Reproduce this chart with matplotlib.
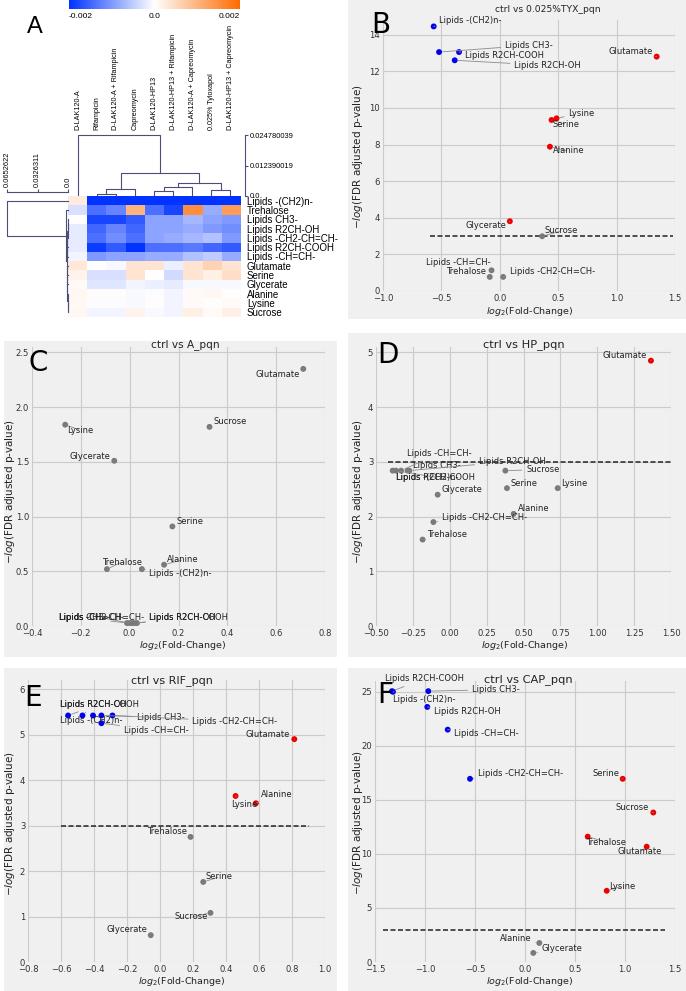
import numpy as np
import matplotlib
matplotlib.use('Agg')
import matplotlib.pyplot as plt
from matplotlib.colors import LinearSegmentedColormap
from matplotlib.patches import Rectangle

W, H = 686, 991

# ---------------- panel A data ----------------
metabolites = ['Lipids -(CH2)n-', 'Trehalose', 'Lipids CH3-', 'Lipids R2CH-OH',
               'Lipids -CH2-CH=CH-', 'Lipids R2CH-COOH', 'Lipids -CH=CH-',
               'Glutamate', 'Serine', 'Glycerate', 'Alanine', 'Lysine', 'Sucrose']
treatments = ['D-LAK120-A', 'Rifampicin', 'D-LAK120-A + Rifampicin', 'Capreomycin',
              'D-LAK120-HP13', 'D-LAK120-HP13 + Rifampicin', 'D-LAK120-A + Capreomycin',
              '0.025% Tyloxapol', 'D-LAK120-HP13 + Capreomycin']

# values in units of 1e-3
heat = np.array([
    [0.25, -2.2, -2.2, -2.2, -2.2, -2.2, -2.2, -2.2, -2.2],
    [-0.3, -1.4, -1.2, 1.0, -1.4, -1.8, 1.5, -0.8, 1.3],
    [0.0, -1.8, -1.8, -1.6, -0.9, -0.9, -0.7, -0.9, -1.0],
    [-0.2, -1.5, -1.2, -1.5, -0.9, -0.9, -0.8, -1.0, -1.1],
    [-0.2, -1.4, -1.1, -1.4, -0.9, -0.8, -0.7, -0.6, -1.0],
    [-0.2, -1.9, -1.6, -2.0, -1.4, -1.4, -1.3, -1.5, -1.6],
    [-0.1, -1.0, -0.9, -0.9, -0.8, -0.8, -0.6, -0.5, -0.8],
    [0.3, 0.0, -0.05, 0.35, 0.35, -0.15, 0.35, 0.6, 0.35],
    [0.15, -0.3, -0.3, 0.35, 0.0, -0.35, 0.35, 0.2, 0.45],
    [0.05, -0.25, -0.25, -0.1, -0.15, -0.2, -0.05, -0.05, -0.05],
    [0.1, 0.02, 0.02, -0.05, -0.02, -0.1, 0.05, 0.1, 0.02],
    [0.08, -0.02, -0.02, -0.05, 0.02, -0.1, 0.05, 0.02, 0.05],
    [0.1, -0.1, -0.1, 0.15, -0.05, -0.1, 0.2, 0.05, 0.2],
]) * 1e-3

# (child a, child b, height); clusters numbered after the leaves
col_links = [(1, 2, 0.0008), (9, 3, 0.0027), (4, 5, 0.0019), (11, 6, 0.0035),
             (7, 8, 0.0024), (12, 13, 0.0052), (10, 14, 0.0092), (0, 15, 0.024780039)]
row_links = [(11, 12, 0.0002), (10, 13, 0.0004), (9, 14, 0.0006), (8, 15, 0.0008),
             (7, 16, 0.0010), (2, 3, 0.0003), (18, 4, 0.0005), (19, 5, 0.0007),
             (20, 6, 0.0009), (21, 17, 0.0015), (1, 22, 0.0025), (0, 23, 0.0652622)]

# ---------------- volcano data (same order as metabolites) ----------------
fc_B = [-0.566, -0.086, -0.52, -0.386, 0.029, -0.349, -0.071, 1.343, 0.443, 0.086, 0.429, 0.486, 0.363]
p_B = [14.45, 0.77, 13.05, 12.6, 0.77, 13.05, 1.13, 12.8, 9.34, 3.81, 7.88, 9.43, 2.99]
fc_C = [0.05, -0.093, -0.011, 0.03, 0.0, 0.02, 0.01, 0.711, 0.175, -0.063, 0.141, -0.264, 0.327]
p_C = [0.52, 0.52, 0.027, 0.027, 0.027, 0.027, 0.027, 2.35, 0.91, 1.51, 0.56, 1.84, 1.82]
fc_D = [-0.387, -0.184, -0.285, -0.274, -0.111, -0.364, -0.33, 1.364, 0.388, -0.082, 0.433, 0.732, 0.377]
p_D = [2.84, 1.58, 2.84, 2.84, 1.90, 2.84, 2.84, 4.85, 2.52, 2.40, 2.05, 2.52, 2.84]
fc_E = [-0.406, 0.185, -0.355, -0.470, -0.288, -0.557, -0.355, 0.814, 0.262, -0.056, 0.581, 0.458, 0.306]
p_E = [5.42, 2.75, 5.42, 5.42, 5.42, 5.42, 5.25, 4.90, 1.76, 0.59, 3.49, 3.65, 1.08]
fc_F = [-1.32, 0.627, -0.967, -0.977, -0.55, -1.33, -0.773, 1.217, 0.977, 0.083, 0.143, 0.817, 1.283]
p_F = [25.0, 11.6, 25.06, 23.6, 16.95, 25.06, 21.5, 10.67, 16.95, 0.84, 1.76, 6.59, 13.83]
threshold = 3.0

# label placement (x, y, ha) per metabolite
lab_B = [(-0.52, 14.78, 'left'), (-0.114, 1.09, 'right'), (0.043, 13.41, 'left'),
         (0.123, 12.32, 'left'), (0.086, 1.09, 'left'), (-0.30, 12.87, 'left'),
         (-0.08, 1.55, 'right'), (1.309, 13.1, 'right'), (0.451, 9.1, 'left'),
         (0.057, 3.56, 'right'), (0.451, 7.65, 'left'), (0.586, 9.71, 'left'),
         (0.386, 3.28, 'left')]
lab_C = [(0.081, 0.477, 'left'), (-0.114, 0.584, 'left'), (-0.29, 0.076, 'left'),
         (0.081, 0.076, 'left'), (-0.29, 0.076, 'left'), (0.081, 0.076, 'left'),
         (-0.29, 0.076, 'left'), (0.698, 2.30, 'right'), (0.19, 0.955, 'left'),
         (-0.08, 1.55, 'right'), (0.152, 0.605, 'left'), (-0.257, 1.79, 'left'),
         (0.344, 1.87, 'left')]
lab_D = [(-0.364, 2.72, 'left'), (-0.154, 1.67, 'left'), (-0.25, 2.93, 'left'),
         (0.196, 3.01, 'left'), (-0.054, 1.98, 'left'), (-0.364, 2.72, 'left'),
         (-0.29, 3.16, 'left'), (1.335, 4.95, 'right'), (0.411, 2.61, 'left'),
         (-0.054, 2.49, 'left'), (0.46, 2.14, 'left'), (0.754, 2.61, 'left'),
         (0.517, 2.86, 'left')]
lab_E = [(-0.608, 5.32, 'left'), (0.161, 2.86, 'right'), (-0.139, 5.38, 'left'),
         (-0.604, 5.67, 'left'), (0.195, 5.29, 'left'), (-0.604, 5.67, 'left'),
         (-0.22, 5.10, 'left'), (0.788, 5.01, 'right'), (0.276, 1.87, 'left'),
         (-0.078, 0.71, 'right'), (0.612, 3.69, 'left'), (0.434, 3.47, 'left'),
         (0.292, 0.99, 'right')]
lab_F = [(-1.317, 24.3, 'left'), (0.61, 11.1, 'left'), (-0.533, 25.2, 'left'),
         (-0.91, 23.2, 'left'), (-0.467, 17.4, 'left'), (-1.4, 26.2, 'left'),
         (-0.71, 21.1, 'left'), (0.927, 10.2, 'left'), (0.943, 17.4, 'right'),
         (0.167, 1.24, 'left'), (0.067, 2.17, 'right'), (0.843, 7.0, 'left'),
         (1.243, 14.3, 'right')]

fig = plt.figure(figsize=(W / 100, H / 100), dpi=100)
fig.patch.set_facecolor('white')


def fx(x):
    return x / W


def fy(y):
    return 1 - y / H


def axes_px(x0, y0, x1, y1):
    return fig.add_axes([x0 / W, 1 - y1 / H, (x1 - x0) / W, (y1 - y0) / H])


def dendro_segments(links, n):
    pos = {i: i + 0.5 for i in range(n)}
    hgt = {i: 0.0 for i in range(n)}
    segs = []
    for k, (a, b, h) in enumerate(links):
        segs.append(([pos[a], pos[a], pos[b], pos[b]], [hgt[a], h, h, hgt[b]]))
        pos[n + k] = (pos[a] + pos[b]) / 2
        hgt[n + k] = h
    return segs


# ---------------- panel A ----------------
AF = 'Liberation Sans'
DCOL = '#4d4d7a'
cmap = LinearSegmentedColormap.from_list('bwo', ['#0033ff', '#ffffff', '#ff6a00'])

ax_h = axes_px(68, 196, 240, 317)
im = ax_h.imshow(heat, cmap=cmap, vmin=-0.002, vmax=0.002, aspect='auto',
                 interpolation='nearest', extent=(0, 9, 13, 0))
ax_h.set_xticks([])
ax_h.yaxis.tick_right()
ax_h.set_yticks(np.arange(13) + 0.5)
ax_h.set_yticklabels(metabolites, fontsize=7.0, family=AF)
ax_h.tick_params(axis='y', length=0, pad=5)
for s in ax_h.spines.values():
    s.set_visible(False)

# column dendrogram
ax_cd = axes_px(68, 132.5, 240, 196)
for xs, ys in dendro_segments(col_links, 9):
    ax_cd.plot(xs, ys, color=DCOL, lw=0.8)
ax_cd.set_xlim(0, 9)
ax_cd.set_ylim(0, 0.0258)
for k in ['top', 'bottom', 'left']:
    ax_cd.spines[k].set_visible(False)
ax_cd.spines['right'].set_position(('outward', 3.6))
ax_cd.spines['right'].set_color(DCOL)
ax_cd.spines['right'].set_bounds(0, 0.024780039)
ax_cd.yaxis.tick_right()
ax_cd.set_yticks([0.0, 0.012390019, 0.024780039])
ax_cd.set_yticklabels(['0.0', '0.012390019', '0.024780039'], fontsize=5.4, family=AF)
ax_cd.tick_params(axis='y', length=2.5, pad=1, color=DCOL)
ax_cd.xaxis.tick_top()
ax_cd.set_xticks(np.arange(9) + 0.5)
ax_cd.set_xticklabels(treatments, rotation=90, fontsize=5.2, family=AF)
ax_cd.tick_params(axis='x', length=0, pad=1.5)
ax_cd.patch.set_visible(False)

# row dendrogram
ax_rd = axes_px(7, 196, 68, 317)
for xs, ys in dendro_segments(row_links, 13):
    ax_rd.plot(ys, xs, color=DCOL, lw=0.8, clip_on=False)
ax_rd.set_xlim(0.0652622, 0)
ax_rd.set_ylim(13, 0)
for k in ['right', 'bottom', 'left']:
    ax_rd.spines[k].set_visible(False)
ax_rd.spines['top'].set_position(('outward', 3))
ax_rd.spines['top'].set_color(DCOL)
ax_rd.xaxis.tick_top()
ax_rd.set_xticks([0.0652622, 0.0326311, 0.0])
ax_rd.set_xticklabels(['0.0652622', '0.0326311', '0.0'], rotation=90, fontsize=5.4, family=AF)
ax_rd.tick_params(axis='x', length=2.5, pad=1, color=DCOL)
ax_rd.set_yticks([])
ax_rd.patch.set_visible(False)

# colorbar
cax = axes_px(69, 0, 240, 9)
cb = fig.colorbar(im, cax=cax, orientation='horizontal')
cb.outline.set_visible(False)
cb.set_ticks([-0.002, 0.0, 0.002])
cb.set_ticklabels(['-0.002', '0.0', '0.002'])
cax.tick_params(length=0, labelsize=6.0, pad=3)
for t, ha in zip(cax.get_xticklabels(), ['left', 'center', 'right']):
    t.set_ha(ha)
    t.set_family(AF)

fig.text(fx(35), fy(27), 'A', fontsize=17, family=AF, ha='center', va='center')

# ---------------- volcano panels ----------------
BG = '#f0f0f0'
for x0, y0, x1, y1 in [(348, 0, 686, 319), (4, 341, 337, 657), (348, 333, 686, 657),
                       (4, 668, 337, 991), (348, 668, 686, 991)]:
    fig.add_artist(Rectangle((fx(x0), fy(y1)), (x1 - x0) / W, (y1 - y0) / H,
                             transform=fig.transFigure, facecolor=BG,
                             edgecolor='none', zorder=-5))


def volcano(box, xlim, ylim, xticks, yticks, fc, nlp, labs, title, title_xy, title_fs,
            letter, letter_xy, xlab_xy, ylab_xy, thr_span):
    ax = axes_px(*box)
    ax.set_facecolor(BG)
    ax.set_xlim(*xlim)
    ax.set_ylim(*ylim)
    ax.set_xticks(xticks)
    ax.set_yticks(yticks)
    ax.grid(True, color='#cbcbcb', lw=0.8)
    ax.set_axisbelow(True)
    for s in ax.spines.values():
        s.set_visible(False)
    ax.tick_params(length=0, labelsize=6.1, pad=2, colors='#333333')
    cols = []
    for f, p in zip(fc, nlp):
        if p > threshold and f < 0:
            cols.append('#0000ee')
        elif p > threshold:
            cols.append('#ee0000')
        else:
            cols.append('#7a7a7a')
    ax.scatter(fc, nlp, c=cols, s=18, edgecolors='none', zorder=3, clip_on=False)
    for name, f, p, (tx, ty, ha) in zip(metabolites, fc, nlp, labs):
        ax.annotate(name, xy=(f, p), xytext=(tx, ty), ha=ha, va='center',
                    fontsize=6, color='#222222', annotation_clip=False, zorder=4,
                    arrowprops=dict(arrowstyle='-', color='#8a8a8a', lw=0.6,
                                    shrinkA=1, shrinkB=2.5))
    if thr_span is not None:
        ax.plot(thr_span, [threshold, threshold], ls='--', color='#333333',
                lw=1.2, dashes=(3, 1.5), zorder=2)
    fig.text(fx(title_xy[0]), fy(title_xy[1]), title, fontsize=title_fs,
             ha='center', va='center', color='#222222')
    fig.text(fx(letter_xy[0]), fy(letter_xy[1]), letter, fontsize=20,
             ha='center', va='center', color='black')
    fig.text(fx(xlab_xy[0]), fy(xlab_xy[1]), '$log_2$(Fold-Change)', fontsize=6.8,
             ha='center', va='center', color='#222222')
    fig.text(fx(ylab_xy[0]), fy(ylab_xy[1]), '$-log$(FDR adjusted p-value)',
             fontsize=7.5, ha='center', va='center', rotation=90, color='#222222')
    return ax


volcano((383, 20, 675, 291), (-1.0, 1.5), (0, 14.8),
        [-1.0, -0.5, 0.0, 0.5, 1.0, 1.5], [0, 2, 4, 6, 8, 10, 12, 14],
        fc_B, p_B, lab_B, 'ctrl vs 0.025%TYX_pqn', (548, 10), 6.6, 'B', (381, 25),
        (530, 312), (358, 157), (-0.6, 1.48))
volcano((32, 347, 325, 626), (-0.4, 0.8), (0, 2.55),
        [-0.4, -0.2, 0.0, 0.2, 0.4, 0.6, 0.8], [0.0, 0.5, 1.0, 1.5, 2.0, 2.5],
        fc_C, p_C, lab_C, 'ctrl vs A_pqn', (185, 345), 7.6, 'C', (38, 363),
        (183, 645), (10, 492), None)
volcano((376, 347, 671, 626), (-0.5, 1.5), (0, 5.1),
        [-0.5, -0.25, 0.0, 0.25, 0.5, 0.75, 1.0, 1.25, 1.5], [0, 1, 2, 3, 4, 5],
        fc_D, p_D, lab_D, 'ctrl vs HP_pqn', (524, 345), 8.2, 'D', (388, 355),
        (525, 645), (358, 492), (-0.42, 1.5))
volcano((28, 680, 325, 962), (-0.8, 1.0), (0, 6.2),
        [-0.8, -0.6, -0.4, -0.2, 0.0, 0.2, 0.4, 0.6, 0.8, 1.0], [0, 1, 2, 3, 4, 5, 6],
        fc_E, p_E, lab_E, 'ctrl vs RIF_pqn', (172, 681), 8.0, 'E', (33, 698),
        (182, 982), (10, 824), (-0.6, 0.9))
volcano((375, 681, 675, 962), (-1.5, 1.5), (0, 26),
        [-1.5, -1.0, -0.5, 0.0, 0.5, 1.0, 1.5], [0, 5, 10, 15, 20, 25],
        fc_F, p_F, lab_F, 'ctrl vs CAP_pqn', (528, 680), 8.2, 'F', (385, 695),
        (530, 982), (358, 823), (-1.42, 1.4))

fig.savefig('out.png', dpi=100, facecolor=fig.get_facecolor())
